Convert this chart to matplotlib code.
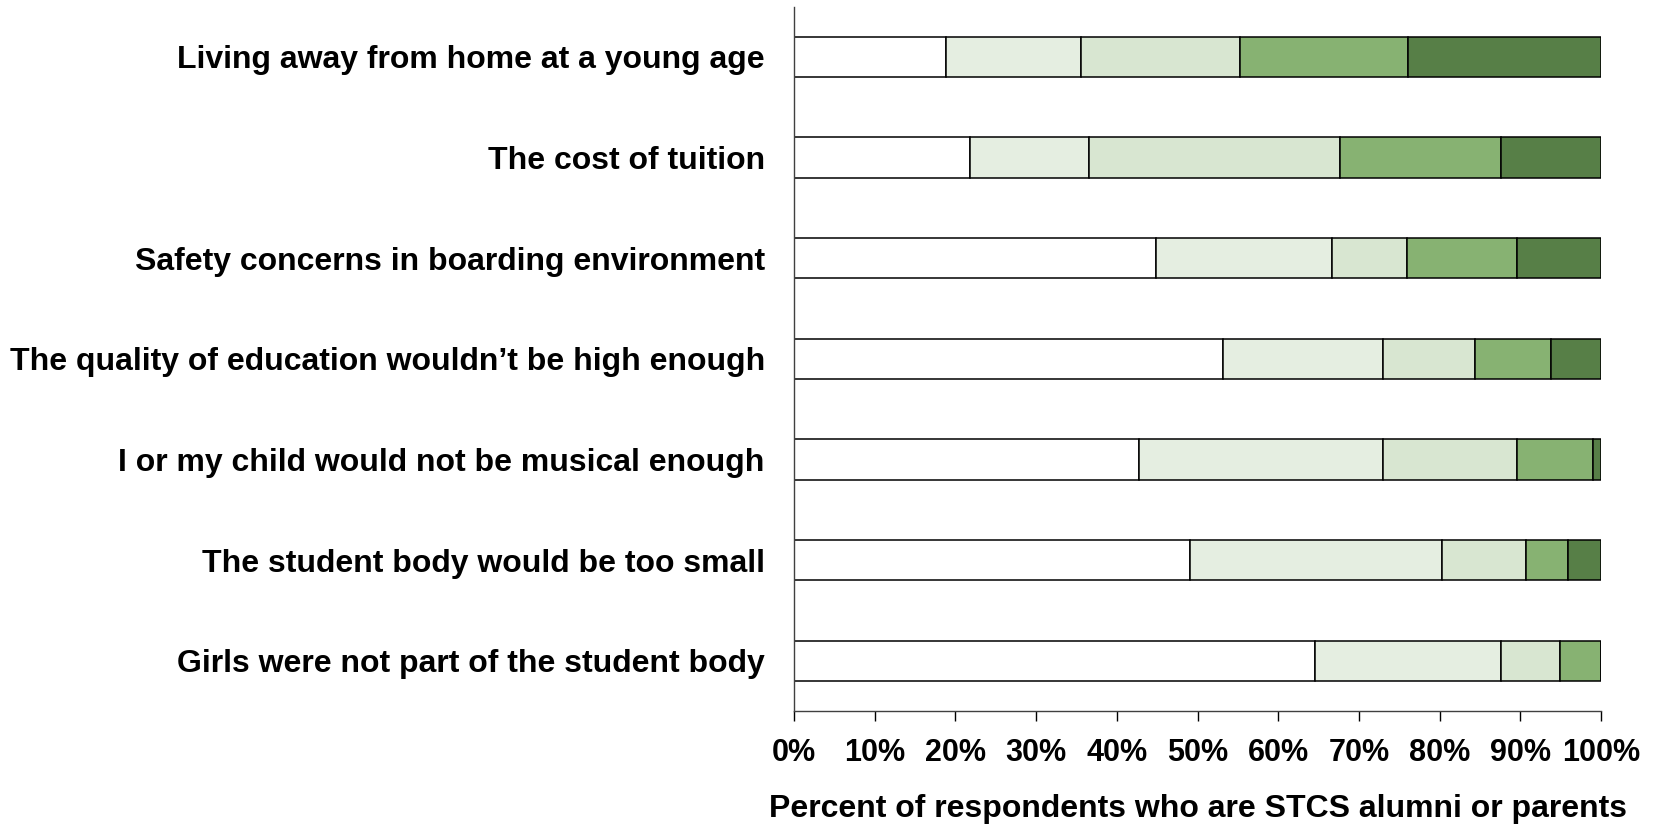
import numpy as np
import matplotlib.pyplot as plt

plt.rcParams["font.family"] = ["Liberation Sans", "DejaVu Sans"]
plt.rcParams["font.weight"] = "bold"

categories = [
    "Living away from home at a young age",
    "The cost of tuition",
    "Safety concerns in boarding environment",
    "The quality of education wouldn\u2019t be high enough",
    "I or my child would not be musical enough",
    "The student body would be too small",
    "Girls were not part of the student body",
]

# share of respondents per response level (percent), least to most concern
level1 = [18.8, 21.8, 44.8, 53.1, 42.7, 49.0, 64.6]
level2 = [16.7, 14.7, 21.9, 19.9, 30.3, 31.3, 23.0]
level3 = [19.7, 31.2, 9.3, 11.4, 16.6, 10.4, 7.3]
level4 = [20.9, 19.9, 13.6, 9.4, 9.4, 5.2, 5.1]
level5 = [23.9, 12.4, 10.4, 6.2, 1.0, 4.1, 0.0]

series = [level1, level2, level3, level4, level5]
colors = ["#FFFFFF", "#E5EEE1", "#D8E6D1", "#87B272", "#577F47"]

fig = plt.figure(figsize=(16.61, 8.26), dpi=100)
ax = fig.add_axes([0.478, 0.139, 0.4860, 0.853])

y = np.arange(len(categories))
left = np.zeros(len(categories))
for vals, col in zip(series, colors):
    vals = np.array(vals)
    ax.barh(y, vals, left=left, height=0.4, color=col,
            edgecolor="black", linewidth=1.1)
    left += vals

ax.set_ylim(6.5, -0.5)
ax.set_xlim(0, 100)
ax.set_yticks(y, categories, fontsize=23, fontweight="bold")
ax.set_xticks(np.arange(0, 101, 10), [f"{v}%" for v in range(0, 101, 10)],
              fontsize=22, fontweight="bold")
ax.tick_params(axis="y", length=0, pad=21)
ax.tick_params(axis="x", length=7, width=1, direction="out", pad=12, color="black")

for s in ["top", "right"]:
    ax.spines[s].set_visible(False)
ax.spines["left"].set_color("#404040")
ax.spines["bottom"].set_color("#404040")
ax.spines["left"].set_linewidth(1)
ax.spines["bottom"].set_linewidth(1)

ax.set_xlabel("Percent of respondents who are STCS alumni or parents",
              fontsize=23, fontweight="bold", labelpad=19)

fig.savefig("out.png", dpi=100)
